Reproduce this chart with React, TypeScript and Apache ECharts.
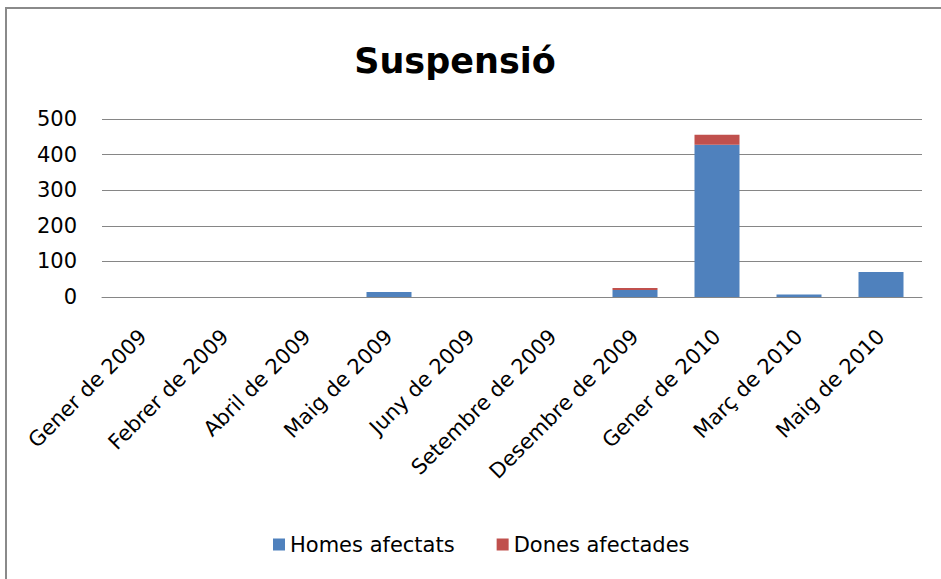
import React, { useEffect, useRef } from "react";
import * as echarts from "echarts";

const categories = [
  "Gener de 2009",
  "Febrer de 2009",
  "Abril de 2009",
  "Maig de 2009",
  "Juny de 2009",
  "Setembre de 2009",
  "Desembre de 2009",
  "Gener de 2010",
  "Març de 2010",
  "Maig de 2010",
];
const homesAfectats = [0, 0, 0, 14, 0, 0, 20, 428, 7, 70];
const donesAfectades = [0, 0, 0, 0, 0, 0, 5, 28, 0, 0];
const yTicks = [0, 100, 200, 300, 400, 500];

const FONT = "'DejaVu Sans', 'Open Sans', sans-serif";

export default function App() {
  const ref = useRef<HTMLDivElement>(null);
  useEffect(() => {
    if (!ref.current) return;
    const chart = echarts.init(ref.current, undefined, { renderer: "svg" });
    chart.setOption({
      animation: false,
      backgroundColor: "#ffffff",
      textStyle: { fontFamily: FONT },
      title: {
        text: "Suspensió",
        left: 450,
        top: 38,
        textAlign: "center",
        textStyle: { fontSize: 35, fontWeight: "bold", color: "#000000", fontFamily: FONT },
      },
      graphic: [
        {
          type: "rect",
          shape: { x: 6, y: 8, width: 960, height: 600 },
          style: { fill: "none", stroke: "#8a8a8a", lineWidth: 2 },
          silent: true,
        },
      ],
      legend: {
        bottom: 19,
        left: 268,
        itemWidth: 12,
        itemHeight: 12,
        itemGap: 42,
        icon: "rect",
        textStyle: { fontSize: 21, color: "#000000", fontFamily: FONT },
        data: ["Homes afectats", "Dones afectades"],
      },
      grid: { left: 102, right: 19, top: 119, bottom: 282 },
      xAxis: {
        type: "category",
        data: categories,
        axisLine: { show: true, lineStyle: { color: "#868686", width: 1 } },
        axisTick: { show: false },
        axisLabel: {
          rotate: 45,
          interval: 0,
          margin: 36,
          fontSize: 21,
          lineHeight: 16,
          align: "right",
          verticalAlign: "middle",
          color: "#000000",
          fontFamily: FONT,
        },
      },
      yAxis: {
        type: "value",
        min: yTicks[0],
        max: yTicks[yTicks.length - 1],
        interval: 100,
        axisLine: { show: false },
        axisTick: { show: false },
        axisLabel: { fontSize: 21, color: "#000000", margin: 25, fontFamily: FONT },
        splitLine: { lineStyle: { color: "#868686", width: 1 } },
      },
      series: [
        {
          name: "Homes afectats",
          type: "bar",
          stack: "total",
          data: homesAfectats,
          barWidth: 45,
          itemStyle: { color: "#4F81BD" },
        },
        {
          name: "Dones afectades",
          type: "bar",
          stack: "total",
          data: donesAfectades,
          barWidth: 45,
          itemStyle: { color: "#C0504D" },
        },
      ],
    });
    return () => chart.dispose();
  }, []);
  return (
    <div
      ref={ref}
      style={{ position: "fixed", left: 0, top: 0, width: 941, height: 579 }}
    />
  );
}
